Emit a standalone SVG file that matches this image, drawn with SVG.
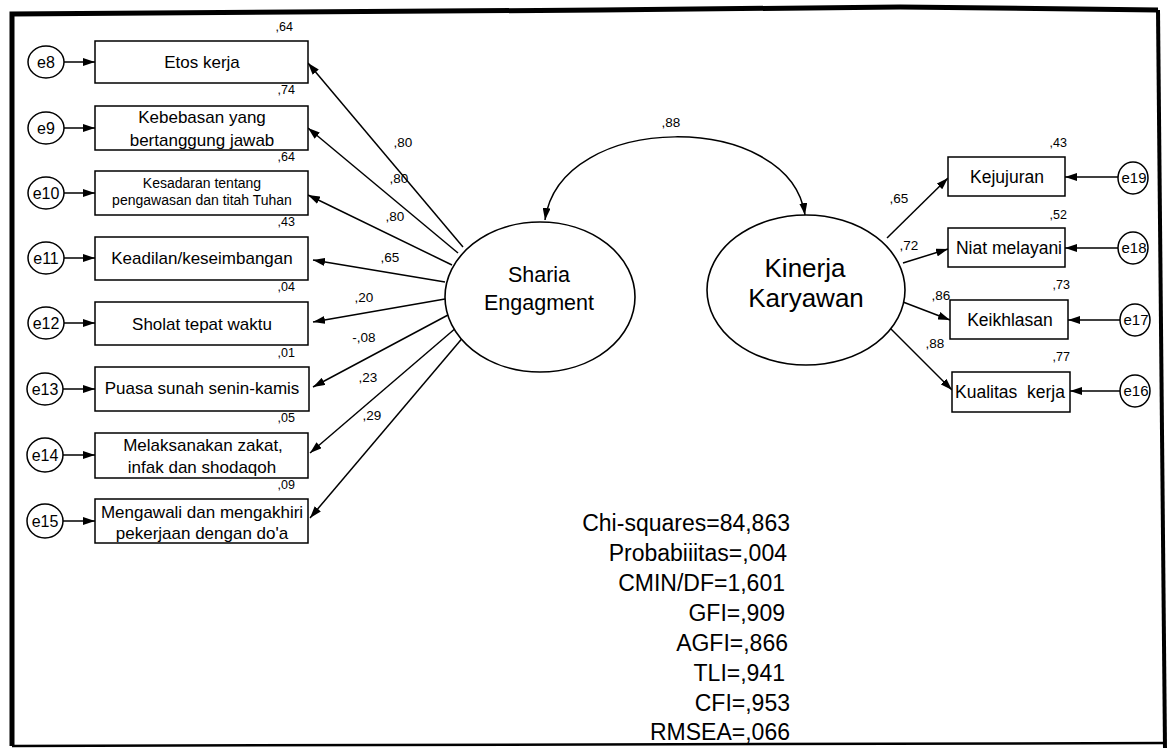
<svg xmlns="http://www.w3.org/2000/svg" width="1167" height="748" viewBox="0 0 1167 748">
  <style>
    text { font-family: "Liberation Sans", Arial, sans-serif; fill: #000; }
    .box { fill: #fff; stroke: #000; stroke-width: 1.5; }
    .lat { fill: #fff; stroke: #000; stroke-width: 1.6; }
    .err { fill: #fff; stroke: #000; stroke-width: 1.5; }
    .ind { font-size: 17px; text-anchor: middle; }
    .ind-s { font-size: 14px; text-anchor: middle; }
    .ind-r { font-size: 17.5px; text-anchor: middle; }
    .elab { font-size: 16px; text-anchor: middle; }
    .elab-r { font-size: 15px; text-anchor: middle; }
    .r2 { font-size: 12.5px; text-anchor: end; }
    .coef { font-size: 13.5px; text-anchor: middle; }
    .latlab { font-size: 21.5px; text-anchor: middle; }
    .latlab2 { font-size: 26px; text-anchor: middle; }
    .fit { font-size: 23px; text-anchor: end; }
    .edge { fill: none; stroke: #000; stroke-width: 1.5; marker-end: url(#ah); }
  </style>
  <defs>
    <marker id="ah" viewBox="0 0 12 8" refX="12" refY="4" markerWidth="12" markerHeight="8" markerUnits="userSpaceOnUse" orient="auto-start-reverse">
      <path d="M0,0 L12,4 L0,8 z" fill="#000"/>
    </marker>
  </defs>

  <rect x="0" y="0" width="1167" height="748" fill="#fff"/>

  <!-- outer frame -->
  <g id="frame" fill="none" stroke="#000" stroke-linejoin="miter">
    <polyline points="12,746 12,14 600,10 900,7 1158,10" stroke-width="5"/>
    <polyline points="1158,10 1165,748" stroke-width="4"/>
    <polyline points="12,746 1165,743" stroke-width="2.5"/>
  </g>

  <!-- connectors -->
  <g id="connectors">
    <!-- Sharia Engagment loadings -->
    <line class="edge" x1="463" y1="247" x2="308" y2="63"/>
    <line class="edge" x1="458" y1="253" x2="308" y2="128"/>
    <line class="edge" x1="452" y1="265" x2="308" y2="195"/>
    <line class="edge" x1="445" y1="282" x2="313" y2="260"/>
    <line class="edge" x1="445" y1="299" x2="313" y2="322"/>
    <line class="edge" x1="448" y1="315" x2="313" y2="387"/>
    <line class="edge" x1="457" y1="327" x2="310" y2="453"/>
    <line class="edge" x1="465" y1="335" x2="310" y2="518"/>
    <!-- Kinerja Karyawan loadings -->
    <line class="edge" x1="887" y1="238" x2="948" y2="178"/>
    <line class="edge" x1="903" y1="263" x2="948" y2="249"/>
    <line class="edge" x1="903" y1="302" x2="950" y2="320"/>
    <line class="edge" x1="887" y1="325" x2="952" y2="390"/>
    <!-- error terms, left -->
    <line class="edge" x1="64" y1="62" x2="95" y2="62"/>
    <line class="edge" x1="64" y1="128" x2="95" y2="128"/>
    <line class="edge" x1="64" y1="193" x2="95" y2="193"/>
    <line class="edge" x1="64" y1="258" x2="95" y2="258"/>
    <line class="edge" x1="64" y1="323" x2="95" y2="323"/>
    <line class="edge" x1="63" y1="389" x2="95" y2="389"/>
    <line class="edge" x1="63" y1="455" x2="95" y2="455"/>
    <line class="edge" x1="63" y1="521" x2="95" y2="521"/>
    <!-- error terms, right -->
    <line class="edge" x1="1118" y1="177" x2="1065" y2="177"/>
    <line class="edge" x1="1118" y1="248" x2="1065" y2="248"/>
    <line class="edge" x1="1120" y1="320" x2="1068" y2="320"/>
    <line class="edge" x1="1120" y1="391" x2="1070" y2="391"/>
    <!-- covariance between latents -->
    <path class="edge" d="M545,220 C560,110 790,110 805,215" style="marker-start:url(#ah)"/>
    <text class="coef" x="671" y="127">,88</text>
    <!-- loading labels -->
    <text class="coef" x="403" y="147">,80</text>
    <text class="coef" x="399" y="183">,80</text>
    <text class="coef" x="395" y="221">,80</text>
    <text class="coef" x="390" y="262">,65</text>
    <text class="coef" x="364" y="302">,20</text>
    <text class="coef" x="364" y="342">-,08</text>
    <text class="coef" x="368" y="382">,23</text>
    <text class="coef" x="372" y="420">,29</text>
    <text class="coef" x="899" y="203">,65</text>
    <text class="coef" x="909" y="250">,72</text>
    <text class="coef" x="941" y="300">,86</text>
    <text class="coef" x="935" y="348">,88</text>
  </g>

  <!-- latent variables -->
  <g id="sharia-engagment">
    <ellipse class="lat" cx="540" cy="297" rx="95" ry="75"/>
    <text class="latlab" x="539" y="282">Sharia</text>
    <text class="latlab" x="539" y="310">Engagment</text>
  </g>
  <g id="kinerja-karyawan">
    <ellipse class="lat" cx="806" cy="290" rx="99" ry="75"/>
    <text class="latlab2" x="805" y="277">Kinerja</text>
    <text class="latlab2" x="806" y="307">Karyawan</text>
  </g>

  <!-- indicators, Sharia Engagment -->
  <g id="etos-kerja">
    <rect class="box" x="95" y="41" width="213" height="42"/>
    <text class="ind" x="202" y="68">Etos kerja</text>
    <text class="r2" x="293" y="31">,64</text>
  </g>
  <g id="kebebasan">
    <rect class="box" x="95" y="106" width="213" height="44"/>
    <text class="ind" x="202" y="123">Kebebasan yang</text>
    <text class="ind" x="202" y="146">bertanggung jawab</text>
    <text class="r2" x="295" y="94">,74</text>
  </g>
  <g id="kesadaran">
    <rect class="box" x="95" y="171" width="213" height="44"/>
    <text class="ind-s" x="202" y="188">Kesadaran tentang</text>
    <text class="ind-s" x="202" y="205">pengawasan dan titah Tuhan</text>
    <text class="r2" x="295" y="161">,64</text>
  </g>
  <g id="keadilan">
    <rect class="box" x="95" y="237" width="213" height="43"/>
    <text class="ind" x="202" y="264">Keadilan/keseimbangan</text>
    <text class="r2" x="295" y="226">,43</text>
  </g>
  <g id="sholat">
    <rect class="box" x="95" y="302" width="213" height="43"/>
    <text class="ind" x="202" y="330">Sholat tepat waktu</text>
    <text class="r2" x="295" y="291">,04</text>
  </g>
  <g id="puasa">
    <rect class="box" x="95" y="367" width="214" height="44"/>
    <text class="ind" x="202" y="394">Puasa sunah senin-kamis</text>
    <text class="r2" x="295" y="357">,01</text>
  </g>
  <g id="zakat">
    <rect class="box" x="95" y="433" width="213" height="45"/>
    <text class="ind" x="203" y="451">Melaksanakan zakat,</text>
    <text class="ind" x="202" y="473">infak dan shodaqoh</text>
    <text class="r2" x="295" y="422">,05</text>
  </g>
  <g id="doa">
    <rect class="box" x="95" y="499" width="213" height="44"/>
    <text class="ind" x="202" y="518">Mengawali dan mengakhiri</text>
    <text class="ind" x="202" y="539">pekerjaan dengan do'a</text>
    <text class="r2" x="295" y="489">,09</text>
  </g>

  <!-- indicators, Kinerja Karyawan -->
  <g id="kejujuran">
    <rect class="box" x="948" y="157" width="117" height="39"/>
    <text class="ind-r" x="1007" y="183">Kejujuran</text>
    <text class="r2" x="1067" y="147">,43</text>
  </g>
  <g id="niat-melayani">
    <rect class="box" x="948" y="228" width="117" height="39"/>
    <text class="ind-r" x="1009" y="254">Niat melayani</text>
    <text class="r2" x="1067" y="219">,52</text>
  </g>
  <g id="keikhlasan">
    <rect class="box" x="950" y="300" width="118" height="39"/>
    <text class="ind-r" x="1010" y="326">Keikhlasan</text>
    <text class="r2" x="1070" y="289">,73</text>
  </g>
  <g id="kualitas-kerja">
    <rect class="box" x="952" y="372" width="118" height="40"/>
    <text class="ind-r" x="1010" y="398" xml:space="preserve">Kualitas  kerja</text>
    <text class="r2" x="1070" y="361">,77</text>
  </g>

  <!-- error terms -->
  <g id="e8"><ellipse class="err" cx="46" cy="62" rx="18" ry="16"/><text class="elab" x="46" y="68">e8</text></g>
  <g id="e9"><ellipse class="err" cx="46" cy="128" rx="18" ry="16"/><text class="elab" x="46" y="134">e9</text></g>
  <g id="e10"><ellipse class="err" cx="46" cy="193" rx="18" ry="16"/><text class="elab" x="46" y="199">e10</text></g>
  <g id="e11"><ellipse class="err" cx="46" cy="258" rx="18" ry="16"/><text class="elab" x="46" y="264">e11</text></g>
  <g id="e12"><ellipse class="err" cx="46" cy="323" rx="18" ry="16"/><text class="elab" x="46" y="329">e12</text></g>
  <g id="e13"><ellipse class="err" cx="45" cy="389" rx="18" ry="16"/><text class="elab" x="45" y="395">e13</text></g>
  <g id="e14"><ellipse class="err" cx="45" cy="455" rx="18" ry="17"/><text class="elab" x="45" y="461">e14</text></g>
  <g id="e15"><ellipse class="err" cx="45" cy="521" rx="18" ry="17"/><text class="elab" x="45" y="527">e15</text></g>
  <g id="e19"><ellipse class="err" cx="1133" cy="178" rx="15" ry="16"/><text class="elab-r" x="1134" y="183">e19</text></g>
  <g id="e18"><ellipse class="err" cx="1133" cy="248" rx="15" ry="16"/><text class="elab-r" x="1134" y="253">e18</text></g>
  <g id="e17"><ellipse class="err" cx="1135" cy="320" rx="15" ry="16"/><text class="elab-r" x="1136" y="325">e17</text></g>
  <g id="e16"><ellipse class="err" cx="1135" cy="391" rx="15" ry="16"/><text class="elab-r" x="1136" y="396">e16</text></g>

  <!-- fit statistics -->
  <g id="fit-indices">
    <text class="fit" x="790" y="531">Chi-squares=84,863</text>
    <text class="fit" x="787" y="561">Probabiiitas=,004</text>
    <text class="fit" x="785" y="591">CMIN/DF=1,601</text>
    <text class="fit" x="785" y="621">GFI=,909</text>
    <text class="fit" x="788" y="651">AGFI=,866</text>
    <text class="fit" x="785" y="681">TLI=,941</text>
    <text class="fit" x="790" y="711">CFI=,953</text>
    <text class="fit" x="790" y="740">RMSEA=,066</text>
  </g>
</svg>
